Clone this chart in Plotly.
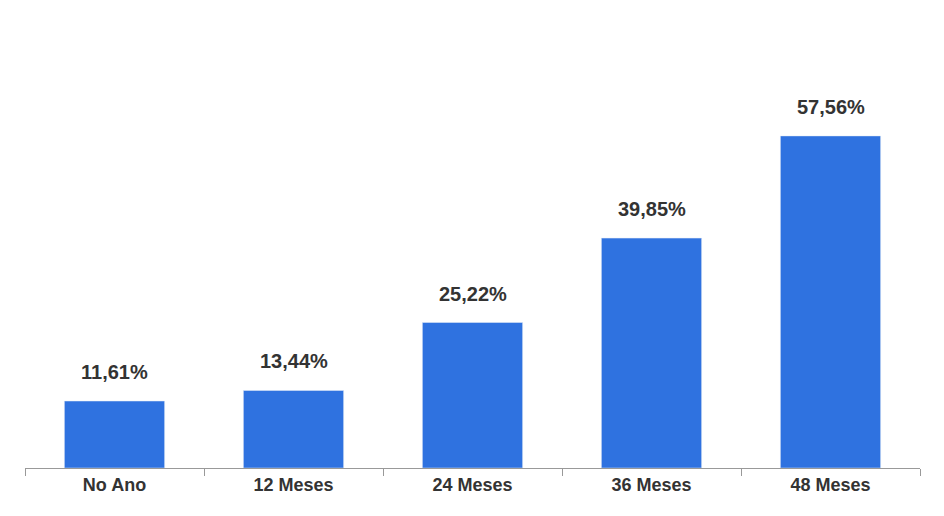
import plotly.graph_objects as go

categories = ["No Ano", "12 Meses", "24 Meses", "36 Meses", "48 Meses"]
values = [11.61, 13.44, 25.22, 39.85, 57.56]
labels = [f"{v:.2f}%".replace(".", ",") for v in values]

fig = go.Figure(go.Bar(
    x=categories, y=values,
    marker_color="#2f72e0", width=0.56,
))
for c, v, t in zip(categories, values, labels):
    fig.add_annotation(x=c, y=v, text=f"<b>{t}</b>", showarrow=False,
                       yanchor="bottom", yshift=16,
                       font=dict(family="Liberation Sans", size=20, color="#333333"))
fig.update_layout(
    width=944, height=516, plot_bgcolor="white", paper_bgcolor="white",
    margin=dict(l=17, r=32, t=85, b=56), showlegend=False,
    font=dict(family="Liberation Sans"),
)
fig.update_xaxes(
    type="category", tickson="boundaries", ticks="outside", ticklen=7,
    tickcolor="#999999", showline=True, linecolor="#999999", linewidth=1,
    tickfont=dict(size=18, color="#333333", weight="bold"),
)
fig.update_yaxes(range=[0, 65], visible=False, showgrid=False)
fig.write_html("out.html")
